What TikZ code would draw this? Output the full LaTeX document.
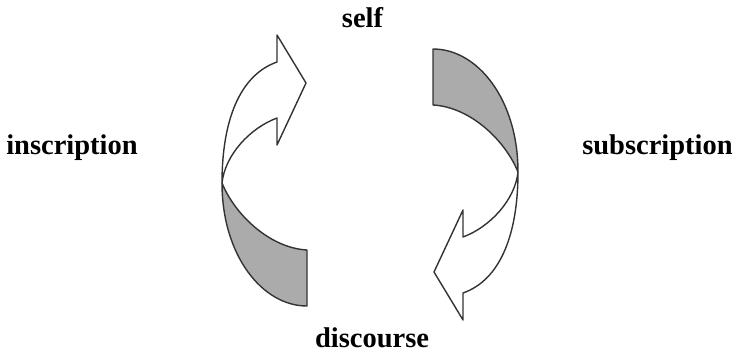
\documentclass[tikz,border=0pt]{standalone}
\usepackage{fontspec}
\setmainfont{Liberation Serif}
\begin{document}
\begin{tikzpicture}[x=1bp,y=-1bp,
  lbl/.style={anchor=base,inner sep=0pt,font=\fontsize{28.5bp}{30bp}\selectfont\bfseries},
  ribbon/.style={draw=black!80,line width=1.4bp,line join=round},
  lightpart/.style={ribbon,fill=white},
  darkpart/.style={ribbon,fill=black!33}]
\useasboundingbox (0,0) rectangle (738,353);
\newcommand{\twistarrow}{%
  \draw[lightpart] (222,183) .. controls (222,120) and (240,75) .. (277,62)
    -- (277,35) -- (306,83) -- (277,145) -- (277,118)
    .. controls (250,128) and (225,155) .. (222,183) -- cycle;
  \draw[darkpart] (222,183) .. controls (222,255) and (262,306) .. (307,306)
    -- (307,250) .. controls (270,248) and (235,215) .. (222,183) -- cycle;}
\begin{scope}\twistarrow\end{scope}
\begin{scope}[rotate around={180:(370,177.5)}]\twistarrow\end{scope}
\node[lbl] (self) at (362.5,27) {self};
\node[lbl] (inscr) at (72,154.5) {inscription};
\node[lbl] (subscr) at (657.5,154) {subscription};
\node[lbl] (disc) at (372,347) {discourse};
\end{tikzpicture}
\end{document}
